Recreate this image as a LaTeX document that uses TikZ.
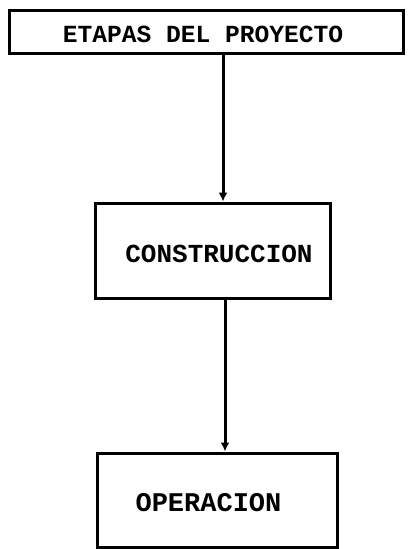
\documentclass[tikz,border=0pt]{standalone}
\usepackage{fontspec}
\setmonofont{Liberation Mono}
\usetikzlibrary{arrows.meta}
\begin{document}
\begin{tikzpicture}[x=1pt,y=-1pt,
  stagebox/.style={draw=black,line width=3pt,fill=white,inner sep=0pt},
  stagelabel/.style={font=\ttfamily\bfseries},
  flow/.style={line width=3pt,-{Latex[length=9pt,width=9pt]}}]
  \useasboundingbox[fill=white] (0,0) rectangle (412,549);
  % stage boxes
  \node[stagebox,minimum width=394pt,minimum height=43pt] (etapas) at (206,31.5) {};
  \node[stagebox,minimum width=235pt,minimum height=95pt] (constr) at (212.5,250.5) {};
  \node[stagebox,minimum width=240pt,minimum height=94pt] (oper) at (217,500) {};
  % labels
  \node[stagelabel,font=\ttfamily\bfseries\fontsize{24.6}{26}\selectfont] (t1) at (203,34) {ETAPAS DEL PROYECTO};
  \node[stagelabel,font=\ttfamily\bfseries\fontsize{26}{28}\selectfont] (t2) at (219,254) {CONSTRUCCION};
  \node[stagelabel,font=\ttfamily\bfseries\fontsize{27}{29}\selectfont] (t3) at (208.5,503) {OPERACION};
  % connectors
  \draw[flow] (etapas.south -| 223,0) -- (constr.north -| 223,0);
  \draw[flow] (constr.south -| 225,0) -- (oper.north -| 225,0);
\end{tikzpicture}
\end{document}
